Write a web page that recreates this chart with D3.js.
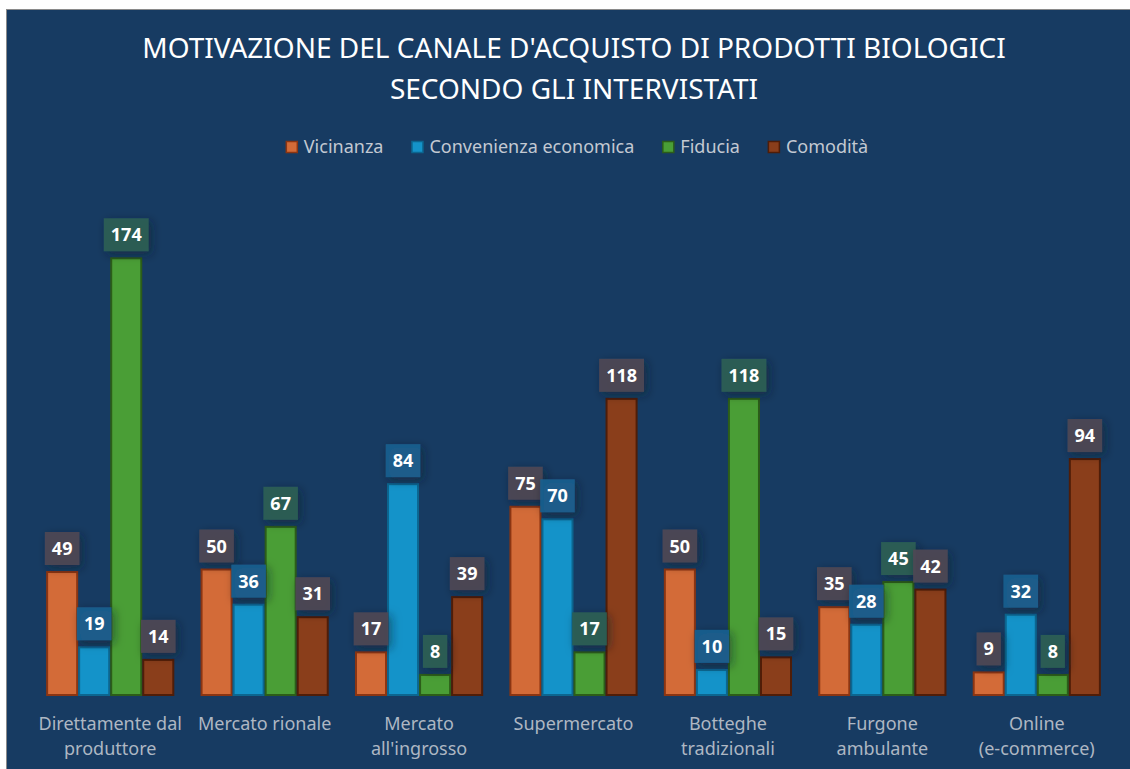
<html>
<head>
<meta charset="utf-8">
<title>Canale d'acquisto</title>
<script src="https://d3js.org/d3.v7.min.js"></script>
<style>
  body { margin: 0; background: #fff; }
  text { font-family: "Noto Sans", sans-serif; }
</style>
</head>
<body>
<div id="chart"></div>
<script>
// data
var categories = ["Direttamente dal|produttore", "Mercato rionale", "Mercato|all'ingrosso", "Supermercato",
                  "Botteghe|tradizionali", "Furgone|ambulante", "Online|(e-commerce)"];
var series = ["Vicinanza", "Convenienza economica", "Fiducia", "Comodità"];
var vicinanza = [49, 50, 17, 75, 50, 35, 9];
var convenienza = [19, 36, 84, 70, 10, 28, 32];
var fiducia = [174, 67, 8, 17, 118, 45, 8];
var comodita = [14, 31, 39, 118, 15, 42, 94];
var values = [vicinanza, convenienza, fiducia, comodita];

var fills = ["#d36b38", "#1493c9", "#4a9e36", "#8a3e1b"];
var strokes = ["#8b3512", "#0c6690", "#2c5d19", "#4f1d08"];
var boxFills = ["rgba(78,72,84,0.92)", "rgba(26,96,142,0.92)", "rgba(42,94,84,0.92)", "rgba(78,72,84,0.92)"];

var W = 1130, H = 769;
var svg = d3.select("#chart").append("svg").attr("width", W).attr("height", H);

var defs = svg.append("defs");
var f = defs.append("filter").attr("id", "sh").attr("x", "-50%").attr("y", "-50%").attr("width", "200%").attr("height", "200%");
f.append("feDropShadow").attr("dx", 3).attr("dy", 3).attr("stdDeviation", 5).attr("flood-color", "#0a1a2c").attr("flood-opacity", 0.55);

// background panel
svg.append("rect").attr("x", 6.5).attr("y", 9.5).attr("width", W).attr("height", H)
  .attr("fill", "#173b62").attr("stroke", "#8a8a8a").attr("stroke-width", 1);

// title
svg.append("text").attr("x", 574).attr("y", 58).attr("text-anchor", "middle")
  .attr("fill", "#ffffff").attr("font-size", "28px").text("MOTIVAZIONE DEL CANALE D'ACQUISTO DI PRODOTTI BIOLOGICI");
svg.append("text").attr("x", 574).attr("y", 99).attr("text-anchor", "middle")
  .attr("fill", "#ffffff").attr("font-size", "28px").text("SECONDO GLI INTERVISTATI");

// scales
var x0 = d3.scaleBand().domain(categories).range([33, 1114]).paddingInner(0.17).paddingOuter(0.085);
var x1 = d3.scaleBand().domain(series).range([0, x0.bandwidth()]);
var y = d3.scaleLinear().domain([0, 200]).range([695, 193]);

// legend
var legend = svg.append("g");
var lx = 0;
series.forEach(function(s, i) {
  var g = legend.append("g").attr("transform", "translate(" + lx + ",0)");
  g.append("rect").attr("x", 0.5).attr("y", -5.5).attr("width", 11).attr("height", 11)
    .attr("fill", fills[i]).attr("stroke", strokes[i]).attr("stroke-width", 1.5);
  var t = g.append("text").attr("x", 18).attr("y", 6).attr("fill", "#c3c9d2")
    .attr("font-size", "18px").text(s);
  lx += 18 + t.node().getComputedTextLength() + 28;
});
legend.attr("transform", "translate(" + (577 - (lx - 28) / 2) + ",147)");

// bars
var plot = svg.append("g");
series.forEach(function(s, i) {
  plot.selectAll(".bar" + i).data(values[i]).enter().append("rect")
    .attr("x", function(d, j) { return x0(categories[j]) + x1(s) + 1; })
    .attr("y", function(d) { return y(d); })
    .attr("width", x1.bandwidth() - 2)
    .attr("height", function(d) { return y(0) - y(d); })
    .attr("fill", fills[i]).attr("stroke", strokes[i]).attr("stroke-width", 2);
});

// data labels
series.forEach(function(s, i) {
  var lg = plot.selectAll(".lab" + i).data(values[i]).enter().append("g")
    .attr("transform", function(d, j) {
      var cx = x0(categories[j]) + x1(s) + x1.bandwidth() / 2;
      return "translate(" + cx + "," + (y(d) - 23) + ")";
    });
  var box = lg.append("rect").attr("y", -17).attr("height", 33)
    .attr("fill", boxFills[i]).attr("filter", "url(#sh)");
  var txt = lg.append("text").attr("text-anchor", "middle").attr("y", 6)
    .attr("fill", "#ffffff").attr("font-size", "18px").attr("font-weight", "bold").text(function(d) { return d; });
  box.each(function(d, j) {
    var w = txt.nodes()[j].getComputedTextLength() + 14;
    d3.select(this).attr("x", -w / 2).attr("width", w);
  });
});

// category labels
categories.forEach(function(c) {
  var lines = c.split("|");
  var t = svg.append("text").attr("text-anchor", "middle").attr("fill", "#aeb7c3").attr("font-size", "18px");
  lines.forEach(function(l, k) {
    t.append("tspan").attr("x", x0(c) + x0.bandwidth() / 2).attr("y", 730 + k * 25).text(l);
  });
});
</script>
</body>
</html>
